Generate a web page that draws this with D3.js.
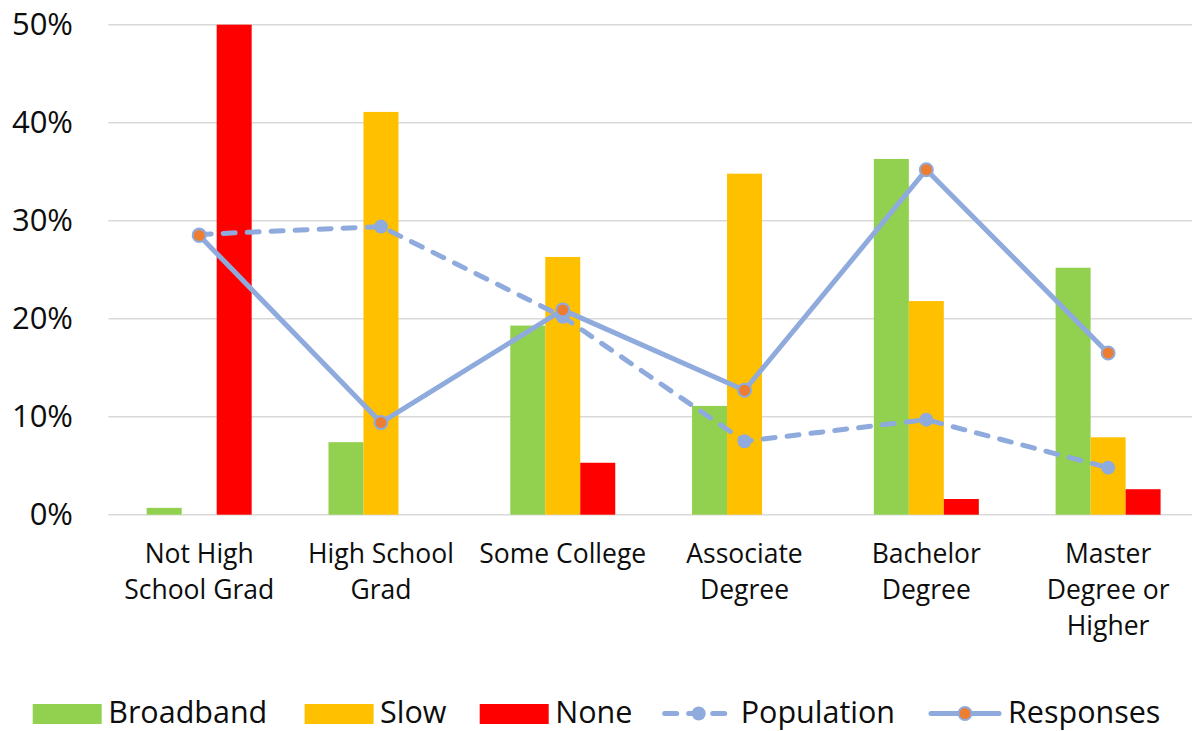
<!DOCTYPE html>
<html>
<head>
<meta charset="utf-8">
<script src="https://cdn.jsdelivr.net/npm/d3@7/dist/d3.min.js"></script>
<style>
  html, body { margin: 0; padding: 0; background: #fff; }
  svg { display: block; font-family: "Open Sans", sans-serif; }
</style>
</head>
<body>
<svg id="chart" width="1192" height="731"></svg>
<script>
// Education level groups and their wrapped axis labels
const categories = ["Not High School Grad", "High School Grad", "Some College",
                    "Associate Degree", "Bachelor Degree", "Master Degree or Higher"];
const categoryLines = [["Not High", "School Grad"], ["High School", "Grad"], ["Some College"],
                       ["Associate", "Degree"], ["Bachelor", "Degree"], ["Master", "Degree or", "Higher"]];

// Bar series (percent)
const broadband = [0.7, 7.4, 19.3, 11.1, 36.3, 25.2];
const slow      = [0, 41.1, 26.3, 34.8, 21.8, 7.9];
const none      = [50.0, 0, 5.3, 0, 1.6, 2.6];

// Line series (percent)
const population = [28.6, 29.4, 20.2, 7.5, 9.7, 4.8];
const responses  = [28.5, 9.4, 20.9, 12.7, 35.2, 16.5];

const yTicks = [0, 10, 20, 30, 40, 50];

const barSeries = [
  { name: "Broadband", values: broadband, color: "#92D050" },
  { name: "Slow",      values: slow,      color: "#FFC000" },
  { name: "None",      values: none,      color: "#FF0000" }
];
const lineColor = "#8FAADC";
const markerOrange = "#ED7D31";

const svg = d3.select("#chart");

const x = d3.scaleBand().domain(categories).range([108.3, 1199]).padding(0);
const groupWidth = x.bandwidth() * 0.5775;
const xInner = d3.scaleBand().domain(barSeries.map(s => s.name))
  .range([-groupWidth / 2, groupWidth / 2]).padding(0);
const y = d3.scaleLinear().domain([0, 50]).range([514.7, 24.7]);

// Gridlines
svg.append("g").selectAll("line").data(yTicks).join("line")
  .attr("x1", 108.3).attr("x2", 1199)
  .attr("y1", d => y(d)).attr("y2", d => y(d))
  .attr("stroke", "#D9D9D9").attr("stroke-width", 1.5);

// Y axis labels
const yAxis = d3.axisLeft(y).tickValues(yTicks).tickFormat(d => d + "%").tickSize(0).tickPadding(0);
const yg = svg.append("g").attr("transform", "translate(73,0)").call(yAxis);
yg.select(".domain").remove();
yg.selectAll("text").attr("font-size", 31).attr("fill", "#0D0D0D")
  .attr("font-family", "Open Sans, sans-serif");

// Bars
const groups = svg.append("g").selectAll("g").data(barSeries).join("g")
  .attr("fill", d => d.color);
groups.selectAll("rect")
  .data(s => s.values.map((v, i) => ({ s: s.name, c: categories[i], v })))
  .join("rect")
  .attr("x", d => x(d.c) + x.bandwidth() / 2 + xInner(d.s))
  .attr("width", xInner.bandwidth())
  .attr("y", d => y(d.v))
  .attr("height", d => y(0) - y(d.v));

// Lines
const cx = (d, i) => x(categories[i]) + x.bandwidth() / 2;
const line = d3.line().x((d, i) => cx(d, i)).y(d => y(d));

svg.append("path").datum(population)
  .attr("d", line).attr("fill", "none")
  .attr("stroke", lineColor).attr("stroke-width", 5)
  .attr("stroke-dasharray", "12,12").attr("stroke-linecap", "round")
  .attr("stroke-linejoin", "round");
svg.append("g").selectAll("circle").data(population).join("circle")
  .attr("cx", cx).attr("cy", d => y(d)).attr("r", 7)
  .attr("fill", lineColor);

svg.append("path").datum(responses)
  .attr("d", line).attr("fill", "none")
  .attr("stroke", lineColor).attr("stroke-width", 5)
  .attr("stroke-linejoin", "round");
svg.append("g").selectAll("circle").data(responses).join("circle")
  .attr("cx", cx).attr("cy", d => y(d)).attr("r", 6.5)
  .attr("fill", markerOrange).attr("stroke", lineColor).attr("stroke-width", 2);

// Category labels
const xl = svg.append("g");
categories.forEach((c, i) => {
  const t = xl.append("text")
    .attr("x", x(c) + x.bandwidth() / 2)
    .attr("text-anchor", "middle")
    .attr("font-size", 26.5).attr("fill", "#0D0D0D");
  categoryLines[i].forEach((ln, j) => {
    t.append("tspan").attr("x", x(c) + x.bandwidth() / 2).attr("y", 563 + j * 36).text(ln);
  });
});

// Legend
const legend = svg.append("g").attr("font-size", 30.5).attr("fill", "#0D0D0D");
const swatchX = [32.7, 304.6, 479.7];
barSeries.forEach((s, i) => {
  legend.append("rect").attr("x", swatchX[i]).attr("y", 704)
    .attr("width", 69).attr("height", 20).attr("fill", s.color);
  legend.append("text").attr("x", swatchX[i] + 75.5).attr("y", 723).text(s.name);
});
const lineItems = [
  { name: "Population", x0: 662.7, dashed: true },
  { name: "Responses",  x0: 929,   dashed: false }
];
lineItems.forEach(it => {
  const ly = 713.5;
  const p = legend.append("line").attr("x1", it.x0 + 2).attr("x2", it.x0 + 70)
    .attr("y1", ly).attr("y2", ly)
    .attr("stroke", lineColor).attr("stroke-width", 5).attr("stroke-linecap", "round");
  if (it.dashed) p.attr("stroke-dasharray", "12,12").attr("stroke-linecap", "round");
  legend.append("circle").attr("cx", it.x0 + 36).attr("cy", ly)
    .attr("r", it.dashed ? 7 : 6.5)
    .attr("fill", it.dashed ? lineColor : markerOrange)
    .attr("stroke", it.dashed ? "none" : lineColor).attr("stroke-width", 2);
  legend.append("text").attr("x", it.x0 + (it.dashed ? 78 : 79)).attr("y", 723).text(it.name);
});
</script>
</body>
</html>
